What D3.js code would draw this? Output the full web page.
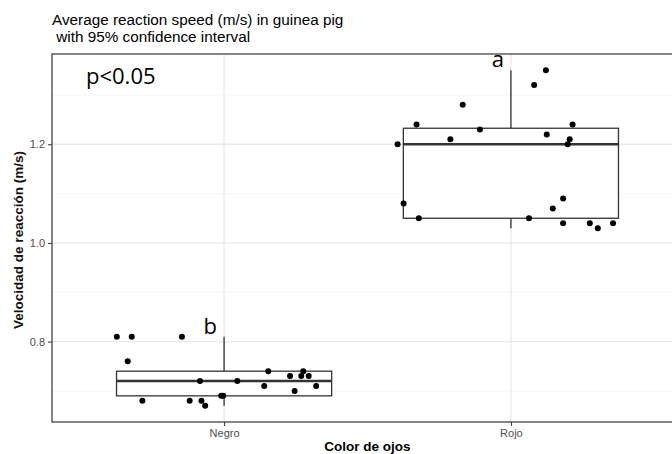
<!DOCTYPE html>
<html>
<head>
<meta charset="utf-8">
<script src="https://cdn.jsdelivr.net/npm/d3@7"></script>
<style>
    body { margin: 0; background: #fff; }
    svg { display: block; }
</style>
</head>
<body>
<div id="chart"></div>
<script>
(function () {
    'use strict';

    // data
    let groups = ['Negro', 'Rojo'];
    let negroValues = [0.81, 0.81, 0.81, 0.76, 0.74, 0.74, 0.73, 0.73, 0.73, 0.72,
        0.72, 0.71, 0.71, 0.70, 0.68, 0.68, 0.68, 0.67, 0.69, 0.69];
    // jitter offsets in category units
    let negroJitter = [-0.374, -0.322, -0.147, -0.336, 0.154, 0.276, 0.230, 0.269, 0.295, -0.084,
        0.046, 0.140, 0.321, 0.246, -0.285, -0.120, -0.079, -0.066, -0.010, -0.003];
    let rojoValues = [1.35, 1.32, 1.28, 1.24, 1.24, 1.23, 1.22, 1.21, 1.21, 1.20,
        1.20, 1.09, 1.08, 1.07, 1.05, 1.05, 1.04, 1.04, 1.04, 1.03];
    let rojoJitter = [0.122, 0.081, -0.168, -0.329, 0.215, -0.108, 0.125, -0.211, 0.205, -0.395,
        0.198, 0.182, -0.374, 0.146, -0.321, 0.063, 0.182, 0.275, 0.356, 0.303];
    let letters = ['b', 'a'];
    let yTicks = [0.8, 1.0, 1.2];
    let yMinor = [0.7, 0.9, 1.1, 1.3];
    let titleLines = ['Average reaction speed (m/s) in guinea pig', ' with 95% confidence interval'];
    let pLabel = 'p<0.05';

    let width = 672, height = 454;
    let margin = { top: 54, right: -11, bottom: 32, left: 52 };
    let innerW = width - margin.left - margin.right;
    let innerH = height - margin.top - margin.bottom;

    let svg = d3.select('#chart').append('svg')
        .attr('width', width)
        .attr('height', height)
        .style('font-family', '"Liberation Sans", Arial, sans-serif');

    let g = svg.append('g')
        .attr('transform', 'translate(' + margin.left + ',' + margin.top + ')');

    // discrete x like ggplot: 0.6 expansion on each side
    let xScale = d3.scaleLinear().domain([0.4, 2.6]).range([0, innerW]);
    let unit = xScale(2) - xScale(1);
    let yScale = d3.scaleLinear().domain([0.637, 1.383]).range([innerH, 0]);

    // grid
    g.selectAll('.minor').data(yMinor).enter().append('line')
        .attr('x1', 0).attr('x2', innerW)
        .attr('y1', d => yScale(d)).attr('y2', d => yScale(d))
        .style('stroke', '#f2f2f2').style('stroke-width', 0.8);
    g.selectAll('.major').data(yTicks).enter().append('line')
        .attr('x1', 0).attr('x2', innerW)
        .attr('y1', d => yScale(d)).attr('y2', d => yScale(d))
        .style('stroke', '#e8e8e8').style('stroke-width', 1.3);
    g.selectAll('.vgrid').data(groups).enter().append('line')
        .attr('x1', (d, i) => xScale(i + 1)).attr('x2', (d, i) => xScale(i + 1))
        .attr('y1', 0).attr('y2', innerH)
        .style('stroke', '#e8e8e8').style('stroke-width', 1.3);

    // box stats
    function stats(values) {
        let s = values.slice().sort(d3.ascending);
        let q1 = d3.quantile(s, 0.25), med = d3.quantile(s, 0.5), q3 = d3.quantile(s, 0.75);
        let iqr = q3 - q1;
        let lo = d3.min(s.filter(v => v >= q1 - 1.5 * iqr));
        let hi = d3.max(s.filter(v => v <= q3 + 1.5 * iqr));
        return { q1: q1, med: med, q3: q3, lo: lo, hi: hi };
    }

    let series = [
        { values: negroValues, jitter: negroJitter },
        { values: rojoValues, jitter: rojoJitter }
    ];

    series.forEach(function (s, i) {
        let st = stats(s.values);
        let cx = xScale(i + 1);
        let half = unit * 0.375;
        let box = g.append('g');
        box.append('line')
            .attr('x1', cx).attr('x2', cx)
            .attr('y1', yScale(st.q3)).attr('y2', yScale(st.hi))
            .style('stroke', '#333').style('stroke-width', 1.3);
        box.append('line')
            .attr('x1', cx).attr('x2', cx)
            .attr('y1', yScale(st.q1)).attr('y2', yScale(st.lo))
            .style('stroke', '#333').style('stroke-width', 1.3);
        box.append('rect')
            .attr('x', cx - half).attr('width', half * 2)
            .attr('y', yScale(st.q3)).attr('height', yScale(st.q1) - yScale(st.q3))
            .style('fill', '#fff').style('stroke', '#333').style('stroke-width', 1.3);
        box.append('line')
            .attr('x1', cx - half).attr('x2', cx + half)
            .attr('y1', yScale(st.med)).attr('y2', yScale(st.med))
            .style('stroke', '#333').style('stroke-width', 2.6);

        g.append('g').selectAll('circle')
            .data(s.values)
            .enter()
            .append('circle')
            .attr('cx', (d, j) => xScale(i + 1 + s.jitter[j]))
            .attr('cy', d => yScale(d))
            .attr('r', 3)
            .style('fill', '#000');

        g.append('text')
            .attr('x', cx - 7)
            .attr('y', yScale(st.hi) - 3)
            .attr('text-anchor', 'end')
            .style('font-family', '"Open Sans", sans-serif')
            .style('font-size', '22px')
            .style('fill', '#000')
            .text(letters[i]);
    });

    // panel border
    g.append('rect')
        .attr('x', 0).attr('y', 0)
        .attr('width', innerW).attr('height', innerH)
        .style('fill', 'none').style('stroke', '#333').style('stroke-width', 1.2);

    // axes
    let yAxis = d3.axisLeft(yScale).tickValues(yTicks).tickFormat(d3.format('.1f'))
        .tickSize(4).tickPadding(3);
    let ya = g.append('g').call(yAxis);
    ya.select('.domain').remove();
    ya.selectAll('line').style('stroke', '#333');
    ya.selectAll('text').style('fill', '#4d4d4d').style('font-size', '11px')
        .style('font-family', '"Liberation Sans", Arial, sans-serif');

    let xAxis = d3.axisBottom(xScale).tickValues([1, 2]).tickFormat(d => groups[d - 1])
        .tickSize(4).tickPadding(3);
    let xa = g.append('g').attr('transform', 'translate(0,' + innerH + ')').call(xAxis);
    xa.select('.domain').remove();
    xa.selectAll('line').style('stroke', '#333');
    xa.selectAll('text').style('fill', '#4d4d4d').style('font-size', '11px')
        .style('font-family', '"Liberation Sans", Arial, sans-serif');

    // titles
    svg.append('text')
        .attr('x', margin.left + innerW / 2)
        .attr('y', 451)
        .attr('text-anchor', 'middle')
        .style('font-size', '13.5px').style('font-weight', 'bold')
        .text('Color de ojos');
    svg.append('text')
        .attr('transform', 'translate(23,' + (margin.top + 186) + ') rotate(-90)')
        .attr('text-anchor', 'middle')
        .style('font-size', '13.5px').style('font-weight', 'bold')
        .style('fill', '#111')
        .text('Velocidad de reacción (m/s)');

    svg.append('g').selectAll('text')
        .data(titleLines)
        .enter()
        .append('text')
        .attr('x', margin.left)
        .attr('y', (d, i) => 25 + i * 17)
        .style('font-size', '15.3px')
        .style('white-space', 'pre')
        .attr('xml:space', 'preserve')
        .text(d => d);

    g.append('text')
        .attr('x', 34)
        .attr('y', 30)
        .style('font-family', '"Open Sans", sans-serif')
        .style('font-size', '22px')
        .text(pLabel);
})();
</script>
</body>
</html>
